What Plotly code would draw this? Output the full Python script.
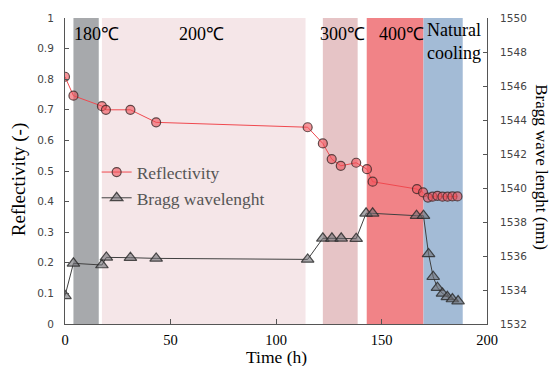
import plotly.graph_objects as go

# Reflectivity data
t_refl = [0, 4, 17.5, 19.4, 31, 43.2, 115, 122.2, 126.4, 130.7, 138, 143.1, 145.8, 166.8, 169.7,
          172, 174.2, 176.5, 178.9, 181.3, 183.6, 186]
refl = [0.808, 0.746, 0.712, 0.70, 0.70, 0.659, 0.643, 0.59, 0.539, 0.517, 0.527, 0.506, 0.465, 0.441, 0.430,
        0.413, 0.416, 0.419, 0.416, 0.416, 0.417, 0.417]

# Bragg wavelength data
t_bragg = [0, 4, 17.5, 19.6, 31, 43.2, 115, 122.2, 126.5, 130.9, 138, 142.7, 145.8, 166.6, 169.9,
           172.3, 174.5, 176.5, 178.9, 181.2, 183.6, 186.3]
bragg = [1533.66, 1535.57, 1535.47, 1535.92, 1535.9, 1535.86, 1535.8, 1537.04, 1537.04, 1537.04, 1537.02,
         1538.51, 1538.51, 1538.37, 1538.37, 1536.12, 1534.78, 1534.14, 1533.8, 1533.6, 1533.47, 1533.35]

# Temperature stages
band_start = [4, 17.5, 122.2, 143, 169.9]
band_end = [16, 114, 138.7, 169.9, 188.5]
band_colors = ["#A7A9AC", "#F5E6E8", "#E6C4C6", "#F18387", "#A3BBD6"]
band_labels = ["180℃", "200℃", "300℃", "400℃", "Natural<br>cooling"]
label_x = [3.3, 64.7, 131.3, 159.3, 184.3]
label_y = [0.948, 0.948, 0.948, 0.948, 0.922]
label_anchor = ["left", "center", "center", "center", "center"]

SERIF = "Liberation Serif"
SANS = "DejaVu Sans"

fig = go.Figure()

fig.add_trace(go.Scatter(
    x=t_refl, y=refl, mode="lines+markers", name="Reflectivity",
    line=dict(color="#F0494F", width=1),
    marker=dict(symbol="circle", size=9, color="rgba(240,80,88,0.6)",
                line=dict(color="rgba(60,40,40,0.8)", width=1.2)),
    yaxis="y"))

fig.add_trace(go.Scatter(
    x=t_bragg, y=bragg, mode="lines+markers", name="Bragg wavelenght",
    line=dict(color="#404040", width=1),
    marker=dict(symbol="triangle-up", size=11, color="rgba(110,110,115,0.6)",
                line=dict(color="rgba(40,40,40,0.8)", width=1.2)),
    yaxis="y2"))

shapes = []
for s, e, c in zip(band_start, band_end, band_colors):
    shapes.append(dict(type="rect", xref="x", yref="paper", x0=s, x1=e, y0=0, y1=1,
                       fillcolor=c, line=dict(width=0), layer="below"))

annotations = []
for lx, ly, lab, anc in zip(label_x, label_y, band_labels, label_anchor):
    annotations.append(dict(x=lx, y=ly, xref="x", yref="paper", text=lab, showarrow=False,
                            xanchor=anc, yanchor="middle", align="center",
                            font=dict(family=SERIF, size=18, color="black")))

annotations.append(dict(x=-0.109, y=0.47, xref="paper", yref="paper", text="Reflectivity (-)",
                        showarrow=False, textangle=-90, xanchor="center", yanchor="middle",
                        font=dict(family=SERIF, size=19, color="black")))
annotations.append(dict(x=1.13, y=0.513, xref="paper", yref="paper", text="Bragg wave lenght (nm)",
                        showarrow=False, textangle=90, xanchor="center", yanchor="middle",
                        font=dict(family=SERIF, size=17, color="black")))
annotations.append(dict(x=0.501, y=-0.108, xref="paper", yref="paper", text="Time (h)",
                        showarrow=False, xanchor="center", yanchor="middle",
                        font=dict(family=SERIF, size=17.5, color="black")))

fig.update_layout(
    width=559, height=366,
    margin=dict(l=65, r=72, t=18, b=42),
    plot_bgcolor="white", paper_bgcolor="white",
    shapes=shapes, annotations=annotations,
    showlegend=True,
    legend=dict(x=0.075, y=0.555, xanchor="left", yanchor="top", bgcolor="rgba(0,0,0,0)",
                font=dict(family=SERIF, size=17.5, color="#555"), tracegroupgap=0,
                itemwidth=30),
    xaxis=dict(range=[0, 200], tickvals=[0, 50, 100, 150, 200], showgrid=False, zeroline=False,
               showline=True, linecolor="#555", linewidth=1, ticks="inside", ticklen=5,
               tickcolor="#555", ticklabelstandoff=3,
               tickfont=dict(family=SERIF, size=14.5, color="black")),
    yaxis=dict(range=[0, 1], dtick=0.1, showgrid=False, zeroline=False, showline=True,
               linecolor="#555", linewidth=1, ticks="inside", ticklen=4, tickcolor="#555",
               ticklabelstandoff=8,
               tickfont=dict(family=SANS, size=10.5, color="#444")),
    yaxis2=dict(range=[1532, 1550], dtick=2, overlaying="y", side="right", showgrid=False,
                zeroline=False, showline=True, linecolor="#555", linewidth=1, ticks="inside",
                ticklen=4, tickcolor="#555", ticklabelstandoff=10,
                tickfont=dict(family=SANS, size=10.5, color="#444")),
)

fig.write_html("out.html")
